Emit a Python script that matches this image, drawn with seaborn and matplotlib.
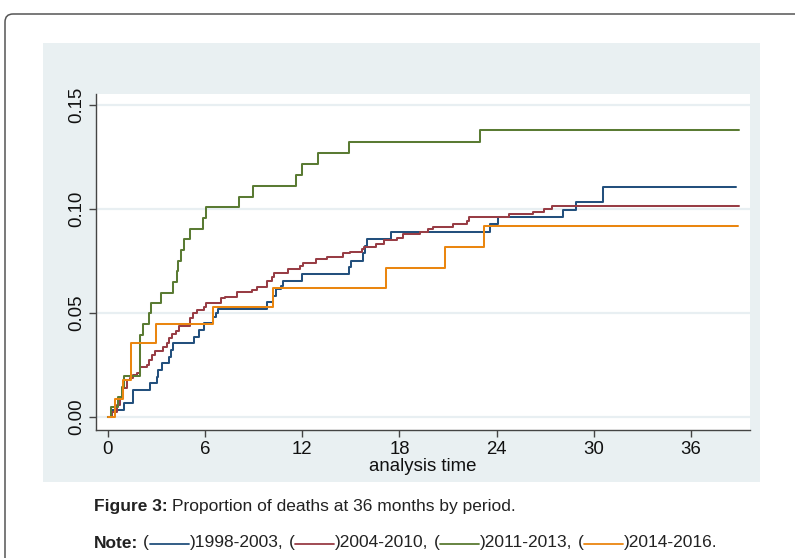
import numpy as np
import pandas as pd
import matplotlib
matplotlib.use("Agg")
import matplotlib.pyplot as plt
import seaborn as sns
from matplotlib.patches import FancyBboxPatch, Rectangle
from matplotlib.lines import Line2D
from matplotlib.transforms import IdentityTransform

# ---------------- data ----------------
periods = ["1998-2003", "2004-2010", "2011-2013", "2014-2016"]
colors = ["#23507d", "#983d45", "#5a7b33", "#ea8610"]

t_9803 = [0, 0.23, 0.99, 1.56, 2.60, 3.05, 3.11, 3.32, 3.77, 3.87, 4.04, 5.33, 5.62,
          5.93, 6.46, 6.67, 6.82, 9.84, 10.17, 10.38, 10.69, 10.83, 12.00, 14.86,
          15.00, 15.77, 15.88, 16.00, 17.50, 23.60, 24.10, 28.08, 28.90, 30.60, 38.80]
p_9803 = [0, 0.0034, 0.0066, 0.0130, 0.0162, 0.0194, 0.0226, 0.0258, 0.0290, 0.0322,
          0.0354, 0.0386, 0.0418, 0.0450, 0.0482, 0.0500, 0.0520, 0.0552, 0.0584,
          0.0616, 0.0632, 0.0652, 0.0686, 0.0720, 0.0752, 0.0787, 0.0820, 0.0855,
          0.0890, 0.0926, 0.0962, 0.0997, 0.1032, 0.1108, 0.1108]

t_0410 = [0, 0.23, 0.54, 0.74, 0.95, 1.15, 1.36, 1.52, 1.77, 1.98, 2.39, 2.55, 2.70,
          2.90, 3.42, 3.62, 3.77, 3.93, 4.20, 4.41, 5.06, 5.27, 5.52, 5.93, 6.05,
          6.96, 7.23, 7.99, 8.87, 9.22, 9.80, 10.11, 10.25, 11.14, 11.86, 12.07,
          12.83, 13.55, 14.54, 14.95, 15.67, 15.81, 16.55, 17.05, 17.83, 18.24,
          19.27, 19.79, 20.09, 21.33, 22.16, 22.30, 24.79, 26.23, 26.95, 27.40, 39.0]
p_0410 = [0, 0.0026, 0.0058, 0.0090, 0.0138, 0.0178, 0.0189, 0.0202, 0.0210, 0.0242,
          0.0250, 0.0274, 0.0298, 0.0319, 0.0338, 0.0354, 0.0381, 0.0397, 0.0415,
          0.0438, 0.0474, 0.0502, 0.0514, 0.0530, 0.0550, 0.0570, 0.0578, 0.0602,
          0.0611, 0.0627, 0.0656, 0.0675, 0.0694, 0.0710, 0.0726, 0.0739, 0.0758,
          0.0768, 0.0787, 0.0795, 0.0806, 0.0819, 0.0832, 0.0851, 0.0862, 0.0878,
          0.0891, 0.0902, 0.0915, 0.0928, 0.0944, 0.0960, 0.0976, 0.0987, 0.0998,
          0.1013, 0.1013]

t_1113 = [0, 0.17, 0.64, 0.84, 1.01, 1.96, 2.18, 2.55, 2.66, 3.27, 4.04, 4.24, 4.35,
          4.49, 4.69, 5.07, 5.89, 6.05, 8.07, 8.93, 11.61, 11.98, 12.99, 14.90,
          23.00, 39.0]
p_1113 = [0, 0.0050, 0.0098, 0.0146, 0.0197, 0.0394, 0.0447, 0.0500, 0.0550, 0.0598,
          0.0650, 0.0700, 0.0752, 0.0803, 0.0855, 0.0906, 0.0956, 0.1008, 0.1060,
          0.1110, 0.1163, 0.1216, 0.1270, 0.1324, 0.1378, 0.1378]

t_1416 = [0, 0.43, 0.95, 1.42, 2.96, 6.50, 10.17, 17.15, 20.80, 23.20, 38.9]
p_1416 = [0, 0.0088, 0.0178, 0.0357, 0.0445, 0.0530, 0.0622, 0.0718, 0.0817, 0.0918,
          0.0918]

x_ticks = [0, 6, 12, 18, 24, 30, 36]
y_ticks = [0.0, 0.05, 0.10, 0.15]
y_tick_labels = ["0.00", "0.05", "0.10", "0.15"]
x_label = "analysis time"
caption_bold = "Figure 3:"
caption_text = "Proportion of deaths at 36 months by period."

frames = []
for name, t, p in zip(periods, [t_9803, t_0410, t_1113, t_1416],
                      [p_9803, p_0410, p_1113, p_1416]):
    frames.append(pd.DataFrame({"time": t, "prop": p, "period": name}))
df = pd.concat(frames, ignore_index=True)

# ---------------- figure ----------------
sns.set_style("white")
plt.rcParams["font.family"] = ["Liberation Sans", "DejaVu Sans"]

W, H = 795, 558
fig = plt.figure(figsize=(W / 100, H / 100), dpi=100)
fig.patch.set_facecolor("white")

# outer rounded frame
frame = FancyBboxPatch((5, -30), 900, H - 14 + 30,
                       boxstyle="round,pad=0,rounding_size=8",
                       transform=IdentityTransform(), fill=False,
                       ec="#555555", lw=1.1, zorder=0)
fig.add_artist(frame)

# light graph region
fig.add_artist(Rectangle((43 / W, 1 - 482 / H), (760 - 43) / W, (482 - 43) / H,
                         transform=fig.transFigure, fc="#e9f0f2", ec="none",
                         zorder=0))

ax = fig.add_axes([96 / W, 1 - 430 / H, 654 / W, 336 / H])
ax.set_facecolor("white")

sns.lineplot(data=df, x="time", y="prop", hue="period", palette=colors,
             drawstyle="steps-post", estimator=None, sort=False,
             linewidth=1.45, legend=False, ax=ax)

ax.set_xlim(-0.74, 39.65)
ax.set_ylim(-0.00625, 0.1553)
ax.set_xticks(x_ticks)
ax.set_xticklabels([str(v) for v in x_ticks])
ax.set_yticks(y_ticks)
ax.set_yticklabels(y_tick_labels, rotation=90, va="center")
ax.yaxis.grid(True, color="#e8eff2", lw=1.6)
ax.xaxis.grid(False)
ax.set_axisbelow(True)

for s in ["top", "right"]:
    ax.spines[s].set_visible(False)
for s in ["left", "bottom"]:
    ax.spines[s].set_color("#444444")
    ax.spines[s].set_linewidth(1.0)

ax.tick_params(axis="both", direction="out", length=5, width=1, color="#444444",
               labelsize=13.4, labelcolor="#111111", pad=3, left=True, bottom=True)
ax.set_xlabel(x_label, fontsize=13.4, color="#111111", labelpad=0)
ax.set_ylabel("")

# ---------------- caption ----------------
renderer = fig.canvas.get_renderer()
cap_size = 12.5
space = 0.278 * cap_size * 100 / 72


def place(x, y, pieces):
    for kind, val, kw in pieces:
        if kind == "text":
            t = fig.text(x / W, 1 - y / H, val, va="center", ha="left",
                         fontsize=cap_size, color="#222222", **kw)
            x += t.get_window_extent(renderer).width
        elif kind == "gap":
            x += val
        else:
            fig.add_artist(Line2D([(x + 1) / W, (x + 1 + val) / W],
                                  [1 - (y + 1) / H] * 2, color=kw,
                                  lw=1.3, transform=fig.transFigure))
            x += val + 2


place(94, 507, [("text", caption_bold, {"weight": "bold"}), ("gap", space, None),
                ("text", caption_text, {})])

note = [("text", "Note:", {"weight": "bold"}), ("gap", space, None)]
for i, (name, c) in enumerate(zip(periods, colors)):
    note.append(("text", "(", {}))
    note.append(("line", 39, c))
    end = "." if i == len(periods) - 1 else ","
    note.append(("text", ")" + name + end, {}))
    if i < len(periods) - 1:
        note.append(("gap", space, None))
place(94, 543, note)

fig.savefig("out.png", dpi=100, facecolor="white")
